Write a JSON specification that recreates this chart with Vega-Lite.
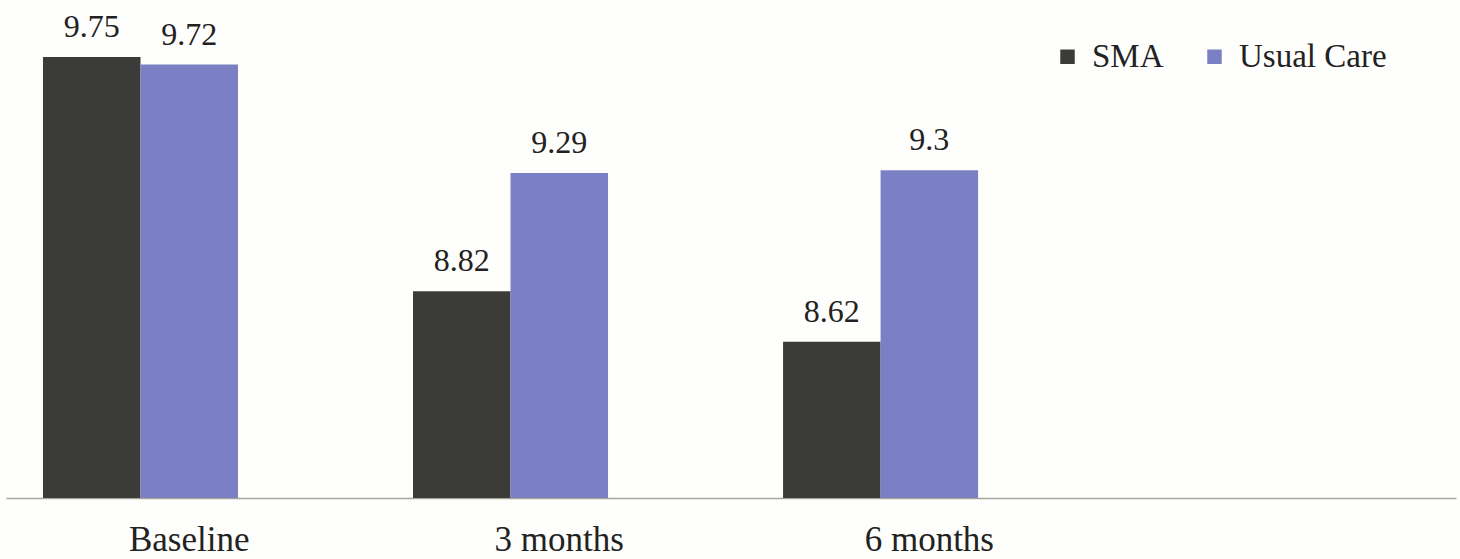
{
  "$schema": "https://vega.github.io/schema/vega-lite/v6.json",
  "autosize": {"type": "none"},
  "width": 1450,
  "height": 498,
  "padding": {"left": 6, "right": 4, "top": 0, "bottom": 61},
  "background": "#fefefc",
  "data": {
    "values": [
      {"period": "Baseline", "group": "SMA", "score": 9.75},
      {"period": "Baseline", "group": "Usual Care", "score": 9.72},
      {"period": "3 months", "group": "SMA", "score": 8.82},
      {"period": "3 months", "group": "Usual Care", "score": 9.29},
      {"period": "6 months", "group": "SMA", "score": 8.62},
      {"period": "6 months", "group": "Usual Care", "score": 9.3}
    ]
  },
  "encoding": {
    "x": {
      "field": "period",
      "type": "nominal",
      "sort": ["Baseline", "3 months", "6 months"],
      "scale": {"paddingInner": 0.2095, "paddingOuter": 0.564, "align": 0.0886},
      "axis": {
        "title": null,
        "ticks": false,
        "tickSize": 0,
        "labelAngle": 0,
        "labelFont": "Liberation Serif",
        "labelFontSize": 35,
        "labelColor": "#222222",
        "labelBaseline": "alphabetic",
        "labelPadding": 52,
        "domainColor": "#aaa59a",
        "domainWidth": 1.5,
        "grid": false
      }
    },
    "xOffset": {
      "field": "group",
      "type": "nominal",
      "scale": {"domain": ["SMA", "Usual Care"], "paddingInner": 0, "paddingOuter": 0.5, "align": 0}
    },
    "y": {
      "field": "score",
      "type": "quantitative",
      "scale": {"domain": [8, 9.976], "zero": false, "nice": false},
      "axis": null
    }
  },
  "layer": [
    {
      "mark": {"type": "bar"},
      "encoding": {
        "y2": {"datum": 8},
        "color": {
          "field": "group",
          "type": "nominal",
          "scale": {"domain": ["SMA", "Usual Care"], "range": ["#3b3c39", "#7b80c4"]},
          "legend": {
            "title": null,
            "orient": "none",
            "direction": "horizontal",
            "legendX": 1045,
            "legendY": 40,
            "padding": 0,
            "symbolType": "square",
            "symbolSize": 210,
            "symbolStrokeWidth": 0,
            "labelFont": "Liberation Serif",
            "labelFontSize": 33,
            "labelColor": "#222222",
            "labelOffset": 8,
            "columnPadding": 34
          }
        }
      }
    },
    {
      "mark": {
        "type": "text",
        "baseline": "alphabetic",
        "dy": -20,
        "font": "Liberation Serif",
        "fontSize": 32,
        "color": "#222222"
      },
      "encoding": {
        "text": {"field": "score", "type": "quantitative"}
      }
    }
  ],
  "config": {"view": {"stroke": null}}
}
